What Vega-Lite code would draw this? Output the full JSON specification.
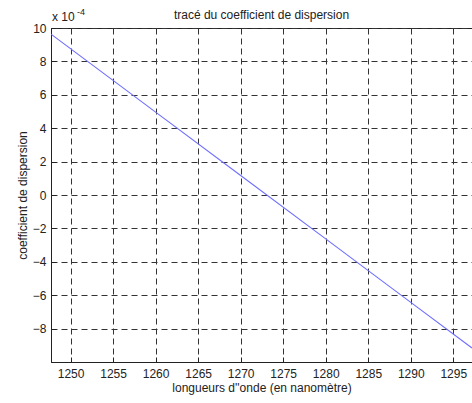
{
  "$schema": "https://vega.github.io/schema/vega-lite/v6.json",
  "width": 421,
  "height": 334,
  "autosize": {"type": "none"},
  "padding": {"left": 51, "top": 28, "right": 0, "bottom": 41},
  "background": "white",
  "config": {
    "font": "Liberation Sans",
    "view": {"stroke": "#222", "strokeWidth": 1},
    "axis": {
      "labelFont": "Liberation Sans",
      "titleFont": "Liberation Sans",
      "labelFontSize": 12,
      "titleFontSize": 12,
      "titleFontWeight": "normal",
      "labelColor": "#222",
      "titleColor": "#222",
      "domainColor": "#222",
      "grid": true,
      "gridColor": "#333",
      "gridDash": [6, 4],
      "gridOpacity": 1,
      "ticks": true,
      "tickSize": -5,
      "tickColor": "#222",
      "labelOverlap": false,
      "labelFlush": false,
      "format": "d"
    }
  },
  "title": {
    "text": "tracé du coefficient de dispersion",
    "font": "Liberation Sans",
    "fontSize": 12,
    "fontWeight": "normal",
    "color": "#222",
    "offset": 0,
    "dy": 14
  },
  "data": {
    "values": [
      {"lambda": 1247.7, "D": 9.63},
      {"lambda": 1260, "D": 4.96},
      {"lambda": 1270, "D": 1.17},
      {"lambda": 1280, "D": -2.63},
      {"lambda": 1290, "D": -6.43},
      {"lambda": 1297.2, "D": -9.16}
    ]
  },
  "layer": [
    {
      "mark": {"type": "line", "color": "#6f6fff", "strokeWidth": 1.1, "clip": true},
      "encoding": {
        "x": {
          "field": "lambda",
          "type": "quantitative",
          "scale": {"domain": [1247.7, 1297.2], "nice": false, "zero": false},
          "axis": {
            "values": [1250, 1255, 1260, 1265, 1270, 1275, 1280, 1285, 1290, 1295],
            "title": "longueurs d''onde (en nanomètre)",
            "labelPadding": 11,
            "titlePadding": 3
          }
        },
        "y": {
          "field": "D",
          "type": "quantitative",
          "scale": {"domain": [-10, 10], "nice": false},
          "axis": {
            "values": [-8, -6, -4, -2, 0, 2, 4, 6, 8, 10],
            "title": "coefficient de dispersion",
            "labelPadding": 10,
            "titlePadding": 3
          }
        }
      }
    },
    {
      "data": {"values": [{"t": "x 10"}]},
      "mark": {"type": "text", "align": "left", "baseline": "bottom", "fontSize": 12, "font": "Liberation Sans", "color": "#222", "dx": 1, "dy": -4},
      "encoding": {
        "text": {"field": "t"},
        "x": {"datum": 1247.7, "type": "quantitative", "axis": {
            "values": [1250, 1255, 1260, 1265, 1270, 1275, 1280, 1285, 1290, 1295],
            "title": "longueurs d''onde (en nanomètre)",
            "labelPadding": 11,
            "titlePadding": 3
          }},
        "y": {"datum": 10, "type": "quantitative", "axis": {
            "values": [-8, -6, -4, -2, 0, 2, 4, 6, 8, 10],
            "title": "coefficient de dispersion",
            "labelPadding": 10,
            "titlePadding": 3
          }}
      }
    },
    {
      "data": {"values": [{"t": "-4"}]},
      "mark": {"type": "text", "align": "left", "baseline": "bottom", "fontSize": 9, "font": "Liberation Sans", "color": "#222", "dx": 26, "dy": -11},
      "encoding": {
        "text": {"field": "t"},
        "x": {"datum": 1247.7, "type": "quantitative", "axis": {
            "values": [1250, 1255, 1260, 1265, 1270, 1275, 1280, 1285, 1290, 1295],
            "title": "longueurs d''onde (en nanomètre)",
            "labelPadding": 11,
            "titlePadding": 3
          }},
        "y": {"datum": 10, "type": "quantitative", "axis": {
            "values": [-8, -6, -4, -2, 0, 2, 4, 6, 8, 10],
            "title": "coefficient de dispersion",
            "labelPadding": 10,
            "titlePadding": 3
          }}
      }
    }
  ]
}
